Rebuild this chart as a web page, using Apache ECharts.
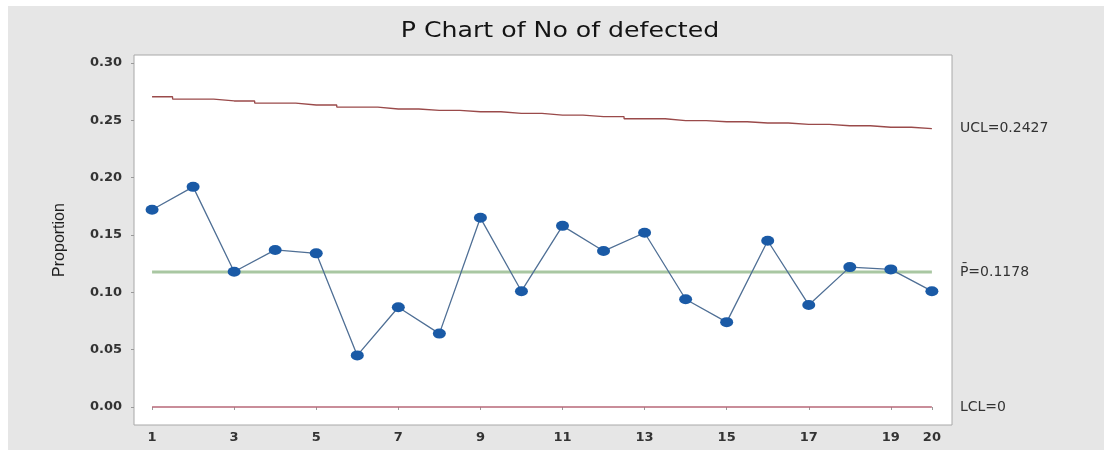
<!DOCTYPE html>
<html>
<head>
<meta charset="utf-8">
<script src="https://cdn.jsdelivr.net/npm/echarts@6/dist/echarts.min.js"></script>
<style>
html,body{margin:0;padding:0;background:#ffffff;}
#c{width:1104px;height:450px;}
</style>
</head>
<body>
<div id="c"></div>
<script>
// ---- data ----
const samples = [1,2,3,4,5,6,7,8,9,10,11,12,13,14,15,16,17,18,19,20];
const proportion = [0.172,0.192,0.118,0.137,0.134,0.045,0.087,0.064,0.165,0.101,0.158,0.136,0.152,0.094,0.074,0.145,0.089,0.122,0.120,0.101];
const ucl = [0.2706,0.2686,0.2669,0.2651,0.2634,0.2616,0.2599,0.2587,0.2575,0.2561,0.2546,0.2532,0.2514,0.2497,0.2488,0.2477,0.2465,0.2453,0.2440,0.2427];
const centerLine = 0.1178;
const lcl = 0;
const yTicks = [0,0.05,0.10,0.15,0.20,0.25,0.30];
const xTicks = [1,3,5,7,9,11,13,15,17,19,20];
const titleText = 'P Chart of No of defected';
const uclLabel = 'UCL=0.2427';
const clLabel = 'P\u0304=0.1178';
const lclLabel = 'LCL=0';

const chart = echarts.init(document.getElementById('c'));
const pairs = (ys) => samples.map((x,i)=>[x, Array.isArray(ys)?ys[i]:ys]);
const labelFont = {fontFamily:'DejaVu Sans', fontSize:14, color:'#333'};

const option = {
  backgroundColor:'#ffffff',
  animation:false,
  graphic:[
    {type:'rect', z:-10, shape:{x:8,y:6,width:1104,height:450}, style:{fill:'#e6e6e6'}},
    {type:'text', x:560, y:32, scaleX:1.2, z:10,
      style:{text:titleText, align:'center', verticalAlign:'middle',
        font:'normal 21px "DejaVu Sans"', fill:'#141414'}}
  ],
  grid:{left:134, top:55, right:152, bottom:25, show:true, backgroundColor:'#ffffff', borderColor:'#a8a8a8', borderWidth:1},
  xAxis:{type:'value', min:0.56, max:20.49,
    axisLine:{show:false}, splitLine:{show:false},
    axisTick:{show:true, customValues:xTicks, length:3, lineStyle:{color:'#999'}},
    axisLabel:{customValues:xTicks, fontFamily:'DejaVu Sans', fontSize:13, fontWeight:'bold', color:'#333', margin:6}
  },
  yAxis:{type:'value', min:-0.0157, max:0.307,
    name:'Proportion', nameLocation:'middle', nameGap:66,
    nameTextStyle:{fontFamily:'Liberation Sans', fontSize:16, color:'#1e1e1e'},
    axisLine:{show:false}, splitLine:{show:false},
    axisTick:{show:true, customValues:yTicks, length:3, lineStyle:{color:'#999'}},
    axisLabel:{customValues:yTicks, formatter:(v)=>v.toFixed(2), fontFamily:'DejaVu Sans', fontSize:13, fontWeight:'bold', color:'#333', margin:12}
  },
  series:[
    {name:'UCL', type:'line', step:'middle', data:pairs(ucl), symbol:'none',
      lineStyle:{color:'#9a4a4a', width:1.3},
      endLabel:{show:true, formatter:uclLabel, distance:28, ...labelFont}},
    {name:'LCL', type:'line', data:pairs(lcl), symbol:'none',
      lineStyle:{color:'#b86878', width:1.6},
      endLabel:{show:true, formatter:lclLabel, distance:28, ...labelFont}},
    {name:'CL', type:'line', data:pairs(centerLine), symbol:'none',
      lineStyle:{color:'#a9c7a2', width:3},
      endLabel:{show:true, formatter:clLabel, distance:28, ...labelFont}},
    {name:'Proportion', type:'line', data:pairs(proportion), symbol:'circle', symbolSize:[13,10],
      lineStyle:{color:'#4f6f95', width:1.3},
      itemStyle:{color:'#1a5aa6'}, z:5}
  ]
};
chart.setOption(option);
</script>
</body>
</html>
